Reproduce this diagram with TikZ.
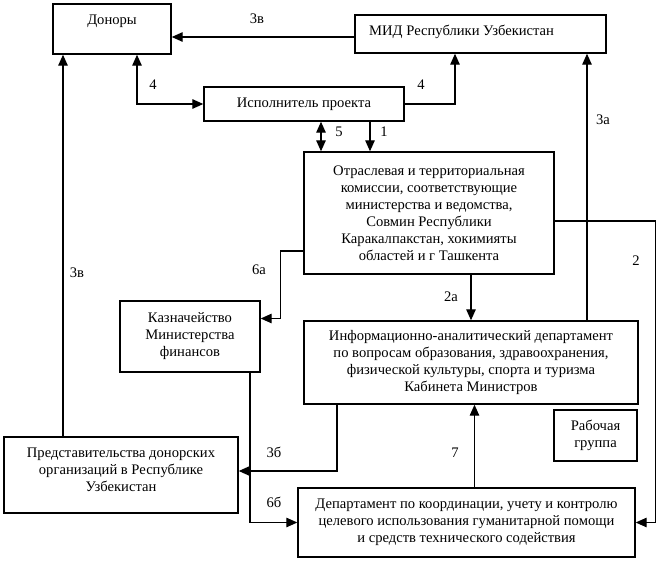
\documentclass[tikz,border=0pt]{standalone}
\usepackage{fontspec}
\setmainfont{Liberation Serif}
\usetikzlibrary{arrows.meta}
\begin{document}
\begin{tikzpicture}[x=1pt,y=-1pt,
  every node/.style={font=\rmfamily\fontsize{14.6}{17}\selectfont},
  box/.style={draw, line width=1.4pt, inner sep=0pt, align=center},
  lbl/.style={inner sep=0pt},
  arr/.style={line width=1.3pt, -{Triangle[length=11pt,width=9.5pt]}},
  darr/.style={line width=1.3pt, {Triangle[length=11pt,width=9.5pt]}-{Triangle[length=11pt,width=9.5pt]}}]
\useasboundingbox (0,0) rectangle (662,565);
% boxes
\node[box, minimum width=118pt, minimum height=50pt] (don) at (112,29) {};
\node[lbl] (donT) at (112,21) {Доноры};
\node[box, minimum width=251pt, minimum height=38pt] (mid) at (480.5,34) {};
\node[lbl, anchor=west] (midT) at (369,32) {МИД Республики Узбекистан};
\node[box, minimum width=200pt, minimum height=34pt] (isp) at (304,104) {Исполнитель проекта};
\node[box, minimum width=250pt, minimum height=122pt] (otr) at (429,213)
  {Отраслевая и территориальная\\комиссии, соответствующие\\министерства и ведомства,\\Совмин Республики\\Каракалпакстан, хокимияты\\областей и г Ташкента};
\node[box, minimum width=140pt, minimum height=71pt] (kaz) at (190,336.5)
  {Казначейство\\Министерства\\финансов};
\node[box, minimum width=334pt, minimum height=83pt] (info) at (471,362.5)
  {Информационно-аналитический департамент\\по вопросам образования, здравоохранения,\\физической культуры, спорта и туризма\\Кабинета Министров};
\node[box, minimum width=83pt, minimum height=51pt] (rab) at (595.5,435.5) {Рабочая\\группа};
\node[box, minimum width=234pt, minimum height=76pt] (pred) at (121,475) {};
\node[lbl, align=center] (predT) at (121,470) {Представительства донорских\\организаций в Республике\\Узбекистан};
\node[box, minimum width=337pt, minimum height=69pt] (dep) at (466.5,522.5)
  {Департамент по координации, учету и контролю\\целевого использования гуманитарной помощи\\и средств технического содействия};
% connectors
\draw[arr] ([yshift=-3pt]mid.west) -- ([yshift=-3pt]mid.west -| don.east);
\draw[darr] ([xshift=25pt]don.south) |- (isp.west);
\draw[arr] (isp.east) -| ([xshift=-25.5pt]mid.south);
\draw[darr] ([xshift=17pt]isp.south) -- ([xshift=17pt]isp.south |- otr.north);
\draw[arr] ([xshift=66pt]isp.south) -- ([xshift=66pt]isp.south |- otr.north);
\draw[arr] ([yshift=-8pt]otr.east) -- ++(101,0) |- (dep.east);
\draw[arr] ([xshift=116pt]info.north) -- ([xshift=116pt]info.north |- mid.south);
\draw[arr] ([yshift=-38pt]otr.west) -- ++(-23,0) |- ([yshift=18pt]kaz.east);
\draw[arr] ([xshift=-58pt]pred.north) -- ([xshift=-58pt]pred.north |- don.south);
\draw[arr] (info.north |- otr.south) -- (info.north);
\draw[arr] ([xshift=8pt]dep.north) -- ([xshift=8pt]dep.north |- info.south);
\draw[arr] ([xshift=-134pt]info.south) |- ([yshift=4pt]pred.east);
\draw[arr] ([xshift=60pt]kaz.south) |- (dep.west);
% labels
\node[lbl] (l3v) at (257,19) {3в};
\node[lbl] (l4a) at (153,85) {4};
\node[lbl] (l4b) at (421,85) {4};
\node[lbl] (l5) at (339,132) {5};
\node[lbl] (l1) at (384,132) {1};
\node[lbl] (l3a) at (603,120) {3а};
\node[lbl] (l2) at (636,261) {2};
\node[lbl] (l6a) at (259,270) {6а};
\node[lbl] (l3v2) at (77,273) {3в};
\node[lbl] (l2a) at (451,297) {2а};
\node[lbl] (l7) at (455,453) {7};
\node[lbl] (l3b) at (274,452) {3б};
\node[lbl] (l6b) at (274,502) {6б};
\end{tikzpicture}
\end{document}
